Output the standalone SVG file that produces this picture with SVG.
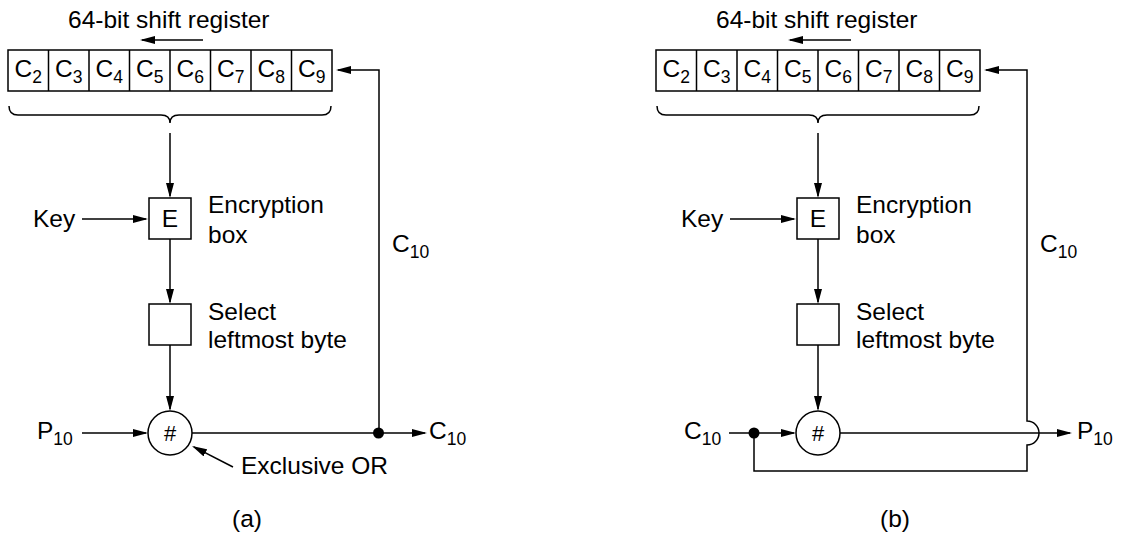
<svg xmlns="http://www.w3.org/2000/svg" width="1123" height="539" viewBox="0 0 1123 539">
<style>
.ln{stroke:#000;stroke-width:1.5;fill:none}
.ar{stroke:#000;stroke-width:1.5;fill:none;marker-end:url(#ah)}
.bx{fill:#fff;stroke:#000;stroke-width:1.5}
.t{font-family:"Liberation Sans",Arial,Helvetica,sans-serif;font-size:24.5px;fill:#000}
.tm{text-anchor:middle}
.sb{font-size:17.5px}
.hs{font-size:22px}
.dot{fill:#000}
</style>
<defs>
<marker id="ah" markerWidth="15" markerHeight="8" refX="13" refY="4" orient="auto" markerUnits="userSpaceOnUse"><path d="M0,0 L15,4 L0,8 z" fill="#000"/></marker>
</defs>
<rect width="1123" height="539" fill="#fff"/>

<!-- Panel (a) -->
<g id="a-register">
<text class="t" x="68" y="28">64-bit shift register</text>
<rect class="bx" x="8" y="50" width="324" height="41"/>
<path class="ln" d="M48.5,50V91M89,50V91M129.5,50V91M170,50V91M210.5,50V91M251,50V91M291.5,50V91"/>
<text class="t tm" x="28.25" y="77">C<tspan class="sb" dy="6">2</tspan></text>
<text class="t tm" x="68.75" y="77">C<tspan class="sb" dy="6">3</tspan></text>
<text class="t tm" x="109.25" y="77">C<tspan class="sb" dy="6">4</tspan></text>
<text class="t tm" x="149.75" y="77">C<tspan class="sb" dy="6">5</tspan></text>
<text class="t tm" x="190.25" y="77">C<tspan class="sb" dy="6">6</tspan></text>
<text class="t tm" x="230.75" y="77">C<tspan class="sb" dy="6">7</tspan></text>
<text class="t tm" x="271.25" y="77">C<tspan class="sb" dy="6">8</tspan></text>
<text class="t tm" x="311.75" y="77">C<tspan class="sb" dy="6">9</tspan></text>
<path class="ln" d="M9,106 Q9,115 18,115 L161,115 Q170,115 170,123 Q170,115 179,115 L322,115 Q331,115 331,106"/>
</g>
<g id="a-key"><text class="t" x="33" y="227">Key</text></g>
<g id="a-encrypt">
<rect class="bx" x="149" y="198" width="42" height="41"/>
<text class="t tm" x="170" y="227">E</text>
<text class="t" x="208" y="213">Encryption</text>
<text class="t" x="208" y="243">box</text>
</g>
<g id="a-select">
<rect class="bx" x="149" y="304" width="42" height="41"/>
<text class="t" x="208" y="320">Select</text>
<text class="t" x="208" y="348">leftmost byte</text>
</g>
<g id="a-xor">
<circle class="bx" cx="170" cy="433" r="22"/>
<text class="t tm hs" x="170" y="441">#</text>
</g>
<g id="a-labels">
<text class="t" x="392" y="252">C<tspan class="sb" dy="6">10</tspan></text>
<text class="t" x="37" y="439">P<tspan class="sb" dy="6">10</tspan></text>
<text class="t" x="429" y="439">C<tspan class="sb" dy="6">10</tspan></text>
<text class="t" x="241" y="474">Exclusive OR</text>
<text class="t tm" x="247" y="527">(a)</text>
</g>

<!-- Panel (b) -->
<g id="b-register">
<text class="t" x="716" y="28">64-bit shift register</text>
<rect class="bx" x="656" y="50" width="324" height="41"/>
<path class="ln" d="M696.5,50V91M737,50V91M777.5,50V91M818,50V91M858.5,50V91M899,50V91M939.5,50V91"/>
<text class="t tm" x="676.25" y="77">C<tspan class="sb" dy="6">2</tspan></text>
<text class="t tm" x="716.75" y="77">C<tspan class="sb" dy="6">3</tspan></text>
<text class="t tm" x="757.25" y="77">C<tspan class="sb" dy="6">4</tspan></text>
<text class="t tm" x="797.75" y="77">C<tspan class="sb" dy="6">5</tspan></text>
<text class="t tm" x="838.25" y="77">C<tspan class="sb" dy="6">6</tspan></text>
<text class="t tm" x="878.75" y="77">C<tspan class="sb" dy="6">7</tspan></text>
<text class="t tm" x="919.25" y="77">C<tspan class="sb" dy="6">8</tspan></text>
<text class="t tm" x="959.75" y="77">C<tspan class="sb" dy="6">9</tspan></text>
<path class="ln" d="M657,106 Q657,115 666,115 L809,115 Q818,115 818,123 Q818,115 827,115 L970,115 Q979,115 979,106"/>
</g>
<g id="b-key"><text class="t" x="681" y="227">Key</text></g>
<g id="b-encrypt">
<rect class="bx" x="797" y="198" width="42" height="41"/>
<text class="t tm" x="818" y="227">E</text>
<text class="t" x="856" y="213">Encryption</text>
<text class="t" x="856" y="243">box</text>
</g>
<g id="b-select">
<rect class="bx" x="797" y="304" width="42" height="41"/>
<text class="t" x="856" y="320">Select</text>
<text class="t" x="856" y="348">leftmost byte</text>
</g>
<g id="b-xor">
<circle class="bx" cx="818" cy="433" r="22"/>
<text class="t tm hs" x="818" y="441">#</text>
</g>
<g id="b-labels">
<text class="t" x="1040" y="252">C<tspan class="sb" dy="6">10</tspan></text>
<text class="t" x="684" y="439">C<tspan class="sb" dy="6">10</tspan></text>
<text class="t" x="1077" y="439">P<tspan class="sb" dy="6">10</tspan></text>
<text class="t tm" x="895" y="527">(b)</text>
</g>

<g id="connectors">
<!-- a -->
<line class="ar" x1="203" y1="40" x2="142" y2="40"/>
<path class="ar" d="M379,433 V70 H338"/>
<line class="ar" x1="170" y1="133" x2="170" y2="196"/>
<line class="ar" x1="82" y1="219" x2="146" y2="219"/>
<line class="ar" x1="170" y1="239" x2="170" y2="302"/>
<line class="ar" x1="170" y1="345" x2="170" y2="409"/>
<line class="ar" x1="82" y1="433" x2="146" y2="433"/>
<line class="ar" x1="192" y1="433" x2="425" y2="433"/>
<line class="ar" x1="233" y1="467" x2="193.8" y2="446.9"/>
<circle class="dot" cx="378.5" cy="433" r="5.5"/>
<!-- b -->
<line class="ar" x1="851" y1="40" x2="790" y2="40"/>
<path class="ar" d="M754,433 V471 H1027 V445 A12,12 0 0 0 1027,421 V70 H986"/>
<line class="ar" x1="818" y1="133" x2="818" y2="196"/>
<line class="ar" x1="730" y1="219" x2="794" y2="219"/>
<line class="ar" x1="818" y1="239" x2="818" y2="302"/>
<line class="ar" x1="818" y1="345" x2="818" y2="409"/>
<line class="ar" x1="729" y1="433" x2="794" y2="433"/>
<line class="ar" x1="840" y1="433" x2="1070" y2="433"/>
<circle class="dot" cx="754" cy="433" r="5.5"/>
</g>
</svg>
